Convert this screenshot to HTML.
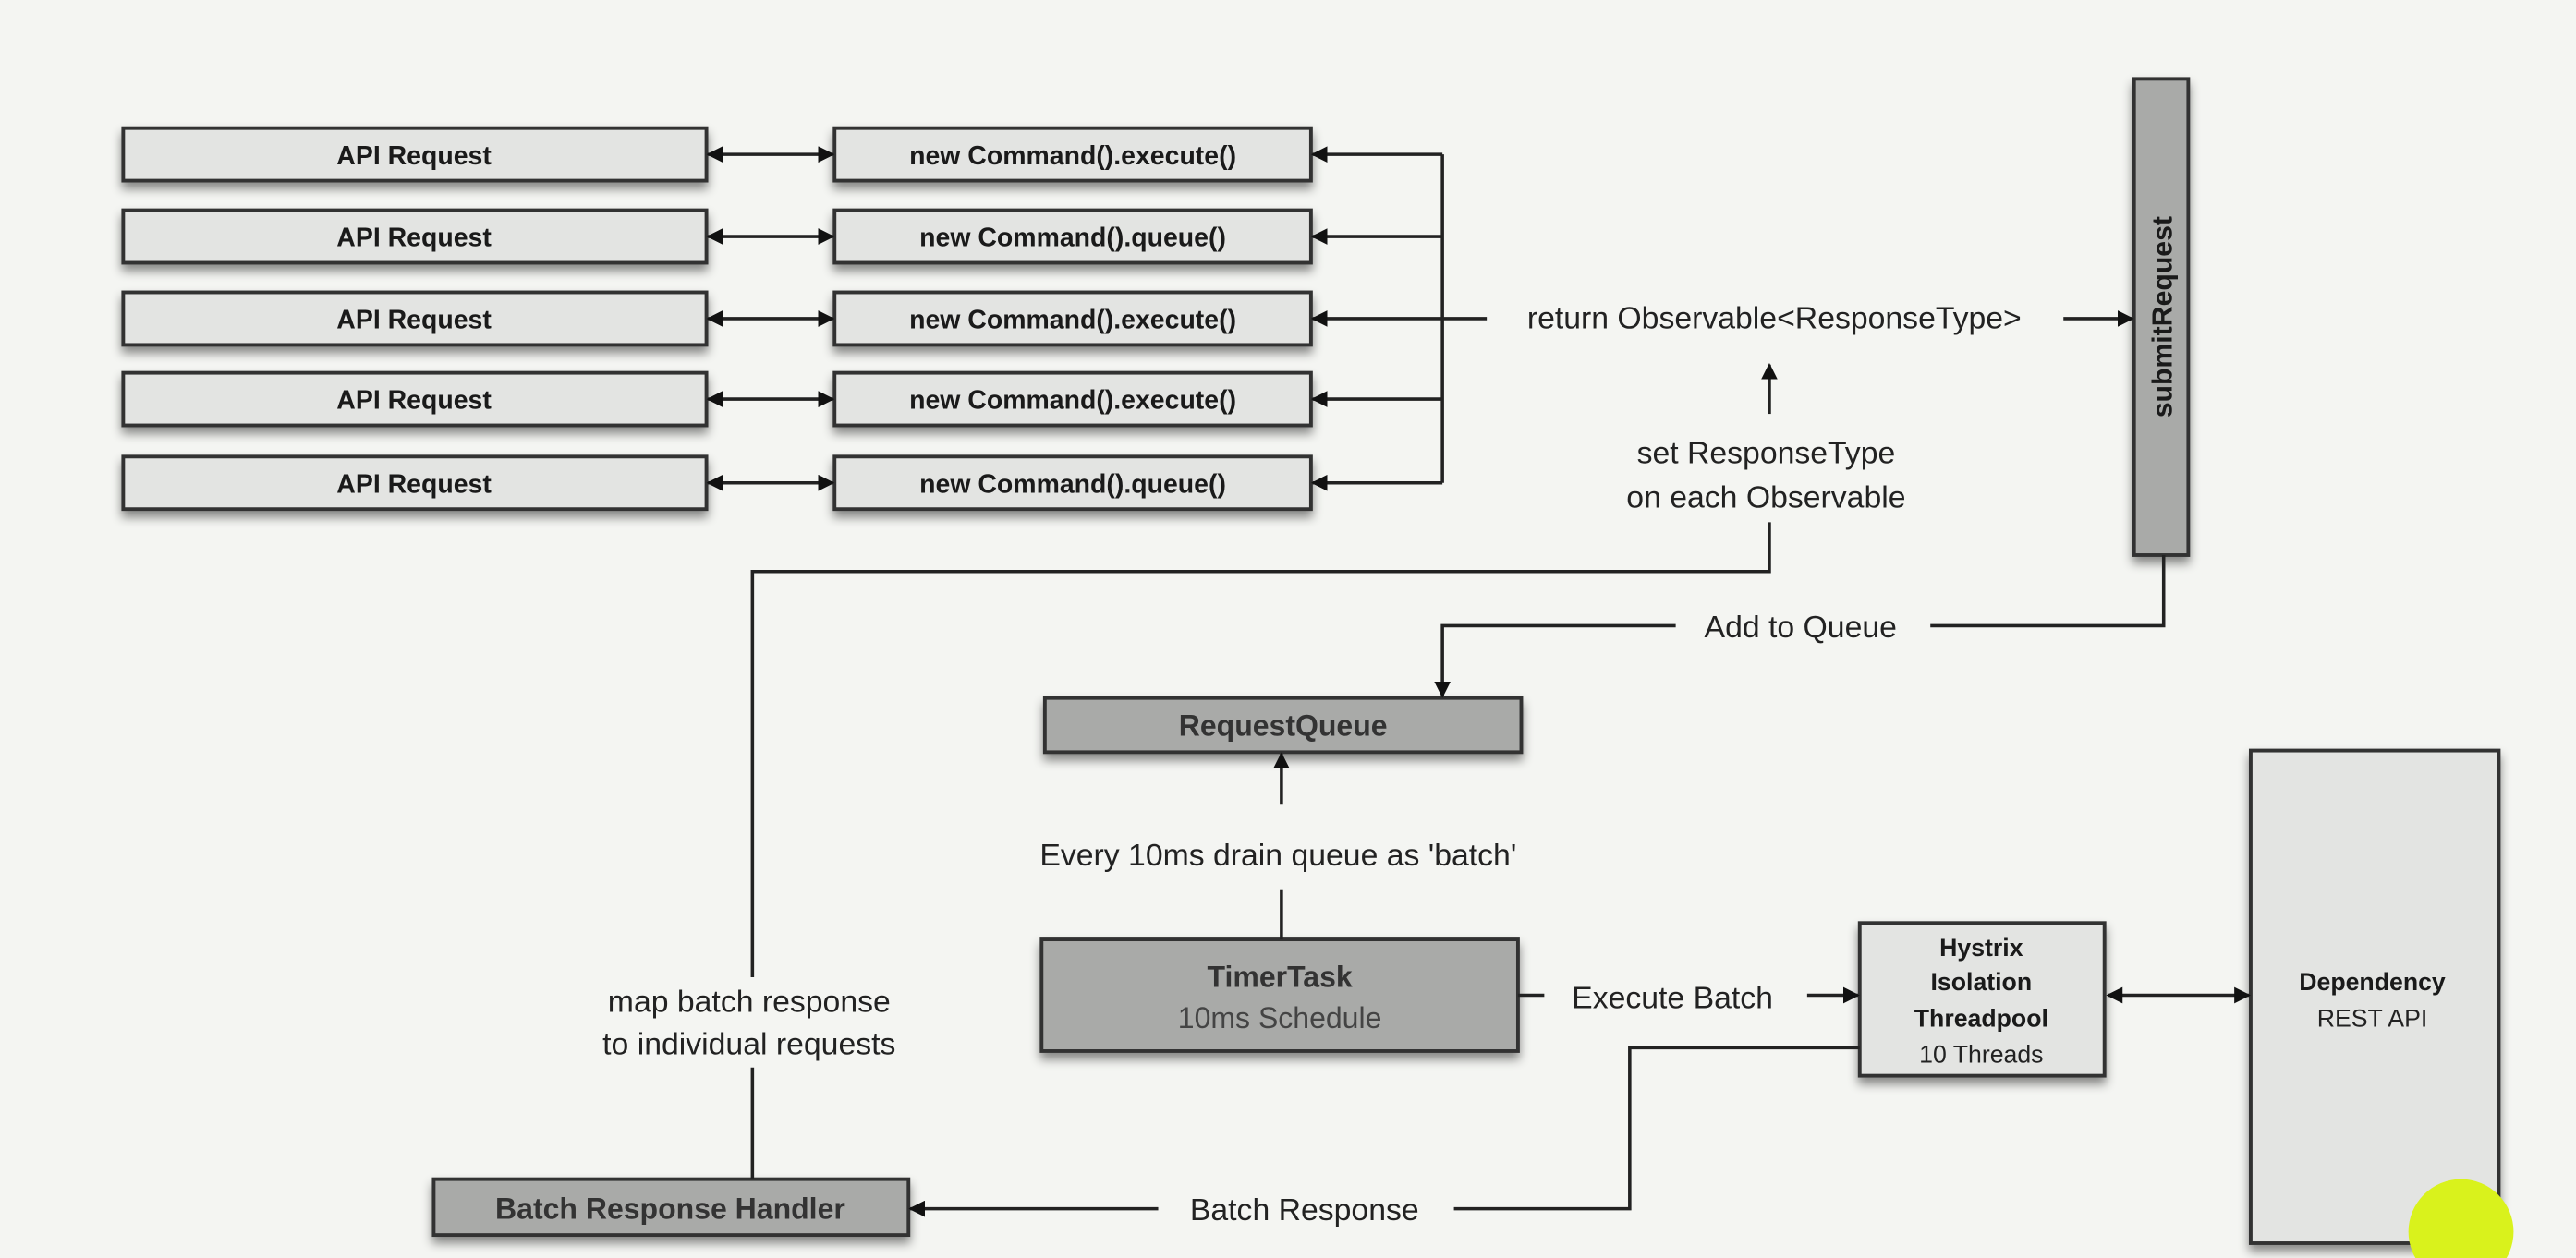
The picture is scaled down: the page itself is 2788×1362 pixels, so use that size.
<!DOCTYPE html>
<html><head><meta charset="utf-8"><style>
html,body{margin:0;padding:0;background:#f4f5f2;}
svg{display:block}
text{font-family:"Liberation Sans",Arial,sans-serif;}
.b{font-weight:bold;font-size:16px;fill:#1a1a1a;text-anchor:middle}
.l{font-size:19px;fill:#222;text-anchor:middle}
.box{fill:#e3e4e2;stroke:#333;stroke-width:2.2}
.dk{fill:#a9aaa8;stroke:#333;stroke-width:2.2}
.ln{stroke:#222;stroke-width:2;fill:none}
</style></head><body>
<svg width="2788" height="1362" viewBox="0 0 1568 766" xmlns="http://www.w3.org/2000/svg">
<defs>
<marker id="a" markerWidth="10" markerHeight="10" refX="9" refY="5" orient="auto" markerUnits="userSpaceOnUse"><path d="M0,0 L10,5 L0,10 z" fill="#111"/></marker>
<marker id="s" markerWidth="10" markerHeight="10" refX="1" refY="5" orient="auto" markerUnits="userSpaceOnUse"><path d="M10,0 L0,5 L10,10 z" fill="#111"/></marker>
<filter id="sh" x="-5%" y="-20%" width="110%" height="160%"><feDropShadow dx="0" dy="4" stdDeviation="3" flood-color="#000" flood-opacity="0.45"/></filter>
</defs>
<rect width="1568" height="766" fill="#f4f5f2"/>

<!-- rows -->
<g filter="url(#sh)">
<rect class="box" x="75" y="78" width="355" height="32"/>
<rect class="box" x="75" y="128" width="355" height="32"/>
<rect class="box" x="75" y="178" width="355" height="32"/>
<rect class="box" x="75" y="227" width="355" height="32"/>
<rect class="box" x="75" y="278" width="355" height="32"/>
<rect class="box" x="508" y="78" width="290" height="32"/>
<rect class="box" x="508" y="128" width="290" height="32"/>
<rect class="box" x="508" y="178" width="290" height="32"/>
<rect class="box" x="508" y="227" width="290" height="32"/>
<rect class="box" x="508" y="278" width="290" height="32"/>
<rect x="1299" y="48" width="33" height="290" fill="#a9aaa8" stroke="#333" stroke-width="2.2"/>
<rect class="dk" x="636" y="425" width="290" height="33"/>
<rect class="dk" x="634" y="572" width="290" height="68"/>
<rect class="box" x="1132" y="562" width="149" height="93"/>
<rect class="box" x="1370" y="457" width="151" height="300"/>
<rect class="dk" x="264" y="718" width="289" height="34"/>
</g>

<g class="b">
<text x="252" y="100">API Request</text>
<text x="252" y="150">API Request</text>
<text x="252" y="200">API Request</text>
<text x="252" y="249">API Request</text>
<text x="252" y="300">API Request</text>
<text x="653" y="100">new Command().execute()</text>
<text x="653" y="150">new Command().queue()</text>
<text x="653" y="200">new Command().execute()</text>
<text x="653" y="249">new Command().execute()</text>
<text x="653" y="300">new Command().queue()</text>
</g>

<!-- double arrows -->
<g class="ln">
<line x1="431" y1="94" x2="507" y2="94" marker-start="url(#s)" marker-end="url(#a)"/>
<line x1="431" y1="144" x2="507" y2="144" marker-start="url(#s)" marker-end="url(#a)"/>
<line x1="431" y1="194" x2="507" y2="194" marker-start="url(#s)" marker-end="url(#a)"/>
<line x1="431" y1="243" x2="507" y2="243" marker-start="url(#s)" marker-end="url(#a)"/>
<line x1="431" y1="294" x2="507" y2="294" marker-start="url(#s)" marker-end="url(#a)"/>
<line x1="878" y1="94" x2="878" y2="294"/>
<line x1="878" y1="94" x2="799" y2="94" marker-end="url(#a)"/>
<line x1="878" y1="144" x2="799" y2="144" marker-end="url(#a)"/>
<line x1="878" y1="194" x2="799" y2="194" marker-end="url(#a)"/>
<line x1="878" y1="243" x2="799" y2="243" marker-end="url(#a)"/>
<line x1="878" y1="294" x2="799" y2="294" marker-end="url(#a)"/>
<line x1="878" y1="194" x2="905" y2="194"/>
<line x1="1256" y1="194" x2="1298" y2="194" marker-end="url(#a)"/>
<line x1="1077" y1="252" x2="1077" y2="222" marker-end="url(#a)"/>
<polyline points="1077,318 1077,348 458,348 458,595"/>
<line x1="458" y1="650" x2="458" y2="718"/>
<polyline points="1317,338 1317,381 1175,381"/>
<polyline points="1020,381 878,381 878,424" marker-end="url(#a)"/>
<line x1="780" y1="490" x2="780" y2="459" marker-end="url(#a)"/>
<line x1="780" y1="542" x2="780" y2="572"/>
<line x1="924" y1="606" x2="940" y2="606"/>
<line x1="1100" y1="606" x2="1131" y2="606" marker-end="url(#a)"/>
<line x1="1283" y1="606" x2="1369" y2="606" marker-start="url(#s)" marker-end="url(#a)"/>
<polyline points="1132,638 992,638 992,736 885,736"/>
<line x1="705" y1="736" x2="554" y2="736" marker-end="url(#a)"/>
</g>

<g class="l">
<text x="1080" y="200">return Observable&lt;ResponseType&gt;</text>
<text x="1075" y="282">set ResponseType</text>
<text x="1075" y="309">on each Observable</text>
<text x="1096" y="388">Add to Queue</text>
<text x="778" y="527">Every 10ms drain queue as 'batch'</text>
<text x="1018" y="614">Execute Batch</text>
<text x="456" y="616">map batch response</text>
<text x="456" y="642">to individual requests</text>
<text x="794" y="743">Batch Response</text>
</g>

<text class="b" x="0" y="0" transform="translate(1322,193) rotate(-90)" style="font-size:17px">submitRequest</text>
<text class="b" x="781" y="448" style="font-size:18px;fill:#333">RequestQueue</text>
<text class="b" x="779" y="601" style="font-size:18px;fill:#333">TimerTask</text>
<text x="779" y="626" style="font-size:18px;fill:#444;text-anchor:middle">10ms Schedule</text>
<g class="b" style="font-size:15px">
<text x="1206" y="582">Hystrix</text>
<text x="1206" y="603">Isolation</text>
<text x="1206" y="625">Threadpool</text>
<text x="1444" y="603">Dependency</text>
</g>
<text x="1206" y="647" style="font-size:15px;fill:#222;text-anchor:middle">10 Threads</text>
<text x="1444" y="625" style="font-size:15px;fill:#222;text-anchor:middle">REST API</text>
<text class="b" x="408" y="742" style="font-size:18px;fill:#333">Batch Response Handler</text>

<circle cx="1498" cy="750" r="32" fill="#d9f21c"/>
</svg>
</body></html>
